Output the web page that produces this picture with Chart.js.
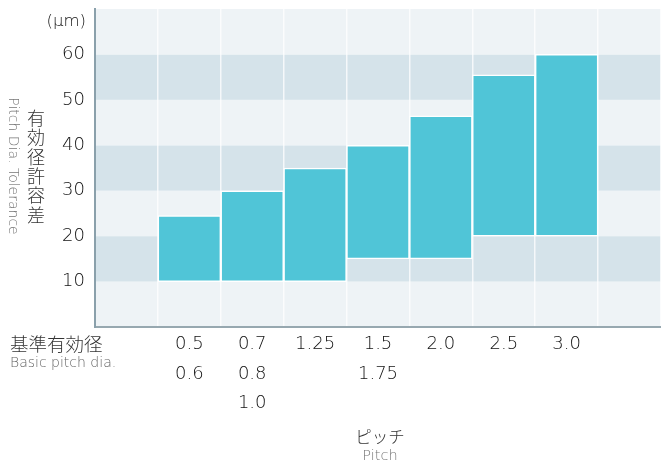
<!DOCTYPE html>
<html>
<head>
<meta charset="utf-8">
<script src="https://cdn.jsdelivr.net/npm/chart.js@4"></script>
<style>
	html, body { margin: 0; padding: 0; background: #fff; }
	canvas { display: block; }
</style>
</head>
<body>
<canvas id="chart" width="661" height="463"></canvas>
<script>
// Pitch columns (empty first/last columns frame the bars)
const pitchLabels = ['', ['0.5', '0.6'], ['0.7', '0.8', '1.0'], ['1.25'], ['1.5', '1.75'], ['2.0'], ['2.5'], ['3.0'], ''];
const toleranceLow = [null, 10, 10, 10, 15, 15, 20, 20, null];
const toleranceHigh = [null, 24.5, 30, 35, 40, 46.5, 55.5, 60, null];
const yTicks = [10, 20, 30, 40, 50, 60];
const bandEdges = [0, 10, 20, 30, 40, 50, 60, 70];

const JP_FONT = "'Noto Sans CJK JP', sans-serif";
const NUM_FONT = "'DejaVu Sans', sans-serif";
const BAR = '#50c5d7';
const BAND_LIGHT = '#eef3f6';
const BAND_DARK = '#d5e3ea';

const floating = toleranceLow.map((lo, i) => (lo === null ? null : [lo, toleranceHigh[i]]));

const bandsPlugin = {
	id: 'bands',
	beforeDraw(chart) {
		const { ctx, chartArea } = chart;
		const y = chart.scales.y;
		ctx.save();
		for (let i = 0; i < bandEdges.length - 1; i++) {
			const top = y.getPixelForValue(bandEdges[i + 1]);
			const bottom = y.getPixelForValue(bandEdges[i]);
			ctx.fillStyle = i % 2 === 0 ? BAND_LIGHT : BAND_DARK;
			ctx.fillRect(chartArea.left, top, chartArea.right - chartArea.left, bottom - top);
		}
		ctx.restore();
	}
};

const textPlugin = {
	id: 'texts',
	afterDraw(chart) {
		const { ctx, chartArea } = chart;
		ctx.save();
		ctx.textBaseline = 'middle';

		// unit
		ctx.fillStyle = '#111';
		ctx.font = '200 16.5px ' + NUM_FONT;
		ctx.textAlign = 'right';
		ctx.fillText('(µm)', chartArea.left - 9, 22);

		// vertical japanese title
		ctx.font = '300 18px ' + JP_FONT;
		ctx.textAlign = 'center';
		ctx.fillStyle = '#333';
		const jp = '有効径許容差';
		for (let i = 0; i < jp.length; i++) {
			ctx.fillText(jp[i], 36, 118 + i * 19.4);
		}

		// rotated english title
		ctx.save();
		ctx.translate(13, 166);
		ctx.rotate(Math.PI / 2);
		ctx.fillStyle = '#777';
		ctx.font = '200 14px ' + NUM_FONT;
		ctx.fillText('Pitch Dia. Tolerance', 0, 0);
		ctx.restore();

		// row label for x ticks
		ctx.textAlign = 'left';
		ctx.fillStyle = '#333';
		ctx.font = '300 18.5px ' + JP_FONT;
		ctx.fillText('基準有効径', 10, 344);
		ctx.fillStyle = '#666';
		ctx.font = '200 14px ' + NUM_FONT;
		ctx.fillText('Basic pitch dia.', 10, 363);

		// x title
		const cx = (chartArea.left + chartArea.right) / 2 + 2;
		ctx.textAlign = 'center';
		ctx.fillStyle = '#333';
		ctx.font = '300 16.5px ' + JP_FONT;
		ctx.fillText('ピッチ', cx, 437);
		ctx.fillStyle = '#777';
		ctx.font = '200 14.5px ' + NUM_FONT;
		ctx.fillText('Pitch', cx, 456);

		ctx.restore();
	}
};

new Chart(document.getElementById('chart'), {
	type: 'bar',
	data: {
		labels: pitchLabels,
		datasets: [
			{
				data: floating,
				backgroundColor: BAR,
				borderColor: '#ffffff',
				borderWidth: 1.5,
				borderSkipped: false,
				categoryPercentage: 1,
				barPercentage: 1
			}
		]
	},
	options: {
		responsive: false,
		animation: false,
		devicePixelRatio: 1,
		layout: { padding: { top: 9, right: 0, left: 0, bottom: 0 } },
		plugins: {
			legend: { display: false },
			tooltip: { enabled: false }
		},
		scales: {
			x: {
				offset: true,
				afterFit: s => { s.height = 136; s.paddingLeft = 0; s.paddingRight = 0; },
				grid: {
					offset: true,
					color: 'rgba(255,255,255,0.75)',
					lineWidth: 1.5,
					drawTicks: false
				},
				border: { color: '#97a8b0', width: 2 },
				ticks: {
					padding: 3,
					color: '#111',
					maxRotation: 0,
					autoSkip: false,
					font: { family: NUM_FONT, size: 18, weight: 200, lineHeight: 1.63 }
				}
			},
			y: {
				min: 0,
				max: 70,
				afterFit: s => { s.width = 95; s.paddingTop = 0; s.paddingBottom = 0; },
				afterBuildTicks: s => { s.ticks = yTicks.map(v => ({ value: v })); },
				grid: { display: false, drawTicks: false },
				border: { color: '#8aa0ab', width: 2 },
				ticks: {
					padding: 10,
					color: '#111',
					font: { family: NUM_FONT, size: 18, weight: 200 }
				}
			}
		}
	},
	plugins: [bandsPlugin, textPlugin]
});
</script>
</body>
</html>
